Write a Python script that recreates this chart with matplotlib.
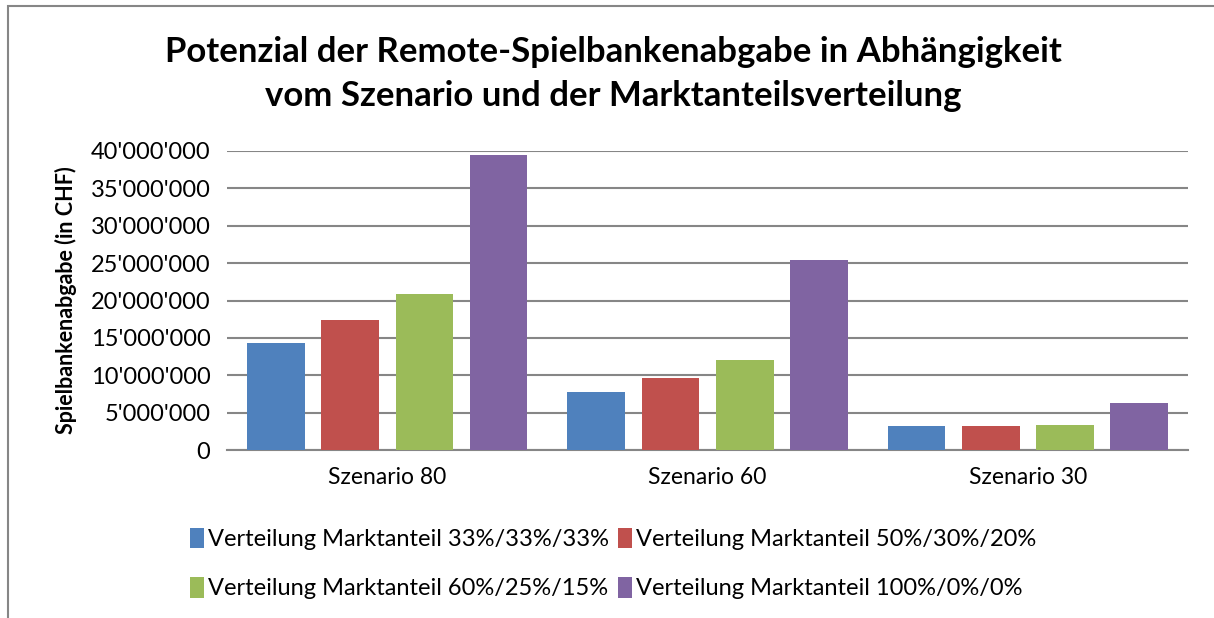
import numpy as np
import matplotlib.pyplot as plt
from matplotlib.patches import Rectangle
from matplotlib.ticker import FuncFormatter

plt.rcParams['font.family'] = ['Lato', 'DejaVu Sans']

# Daten
szenarien = ["Szenario 80", "Szenario 60", "Szenario 30"]
serien = [
    "Verteilung Marktanteil 33%/33%/33%",
    "Verteilung Marktanteil 50%/30%/20%",
    "Verteilung Marktanteil 60%/25%/15%",
    "Verteilung Marktanteil 100%/0%/0%",
]
werte = [
    [14_370_000, 7_810_000, 3_210_000],
    [17_410_000, 9_690_000, 3_210_000],
    [20_900_000, 12_050_000, 3_390_000],
    [39_420_000, 25_360_000, 6_250_000],
]
farben = ["#4f81bd", "#c0504d", "#9bbb59", "#8064a2"]

fig = plt.figure(figsize=(12.14, 6.18), dpi=100)
ax = fig.add_axes([0.187, 0.2718, 0.7916, 0.4839])

x = np.arange(len(szenarien))
breite = 0.18
schritt = 0.232
for i, (name, w, f) in enumerate(zip(serien, werte, farben)):
    ax.bar(x + (i - 1.5) * schritt, w, breite, color=f, label=name, zorder=3)

ax.set_xlim(-0.5, 2.5)
ax.set_ylim(0, 40_000_000)
ax.set_yticks(np.arange(0, 40_000_001, 5_000_000))
ax.yaxis.set_major_formatter(FuncFormatter(lambda v, p: f"{int(v):,}".replace(",", "'")))
ax.set_xticks(x)
ax.set_xticklabels(szenarien)
ax.tick_params(length=0, colors="black")
ax.tick_params(axis="y", pad=12, labelsize=17)
ax.tick_params(axis="x", pad=12, labelsize=16.5)
ax.grid(axis="y", color="#868686", linewidth=1.5, zorder=0)
for s in ["left", "right", "top"]:
    ax.spines[s].set_visible(False)
ax.spines["bottom"].set_color("#868686")
ax.spines["bottom"].set_linewidth(1.5)

ax.set_ylabel("Spielbankenabgabe (in CHF)", fontsize=15.5, fontweight="bold", labelpad=10)

fig.text(0.505, 0.88,
         "Potenzial der Remote-Spielbankenabgabe in Abhängigkeit\nvom Szenario und der Marktanteilsverteilung",
         ha="center", va="center", fontsize=25, fontweight="bold", linespacing=1.45)

# Legende zeilenweise wie im Original
h, l = ax.get_legend_handles_labels()
reihenfolge = [0, 2, 1, 3]
fig.legend([h[k] for k in reihenfolge], [l[k] for k in reihenfolge],
           loc="center", bbox_to_anchor=(0.505, 0.088), ncol=2, frameon=False,
           fontsize=17, handlelength=0.6, handleheight=0.95, handletextpad=0.15,
           columnspacing=0.4, labelspacing=1.15)

# Rahmen des Diagramms
fig.add_artist(Rectangle((8 / 1214, -0.1), 1.2, 1 - 6 / 618 + 0.1, transform=fig.transFigure,
                         fill=False, edgecolor="#868686", linewidth=1.5))

fig.savefig("out.png", dpi=100)
